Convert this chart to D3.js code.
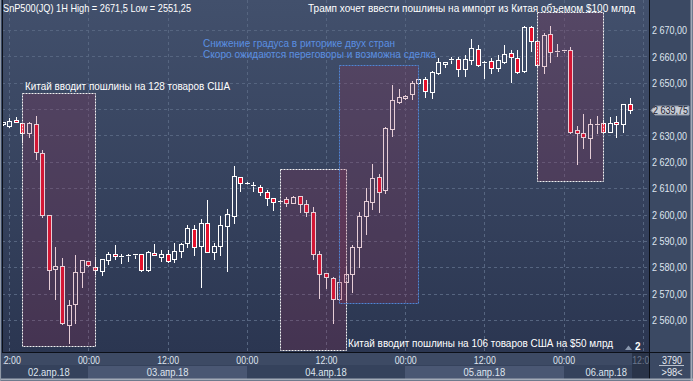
<!DOCTYPE html>
<html><head><meta charset="utf-8">
<script src="https://cdn.jsdelivr.net/npm/d3@7"></script>
<style>html,body{margin:0;padding:0;background:#3b4963;overflow:hidden}svg{display:block}text{font-family:"Liberation Sans",Arial,sans-serif}</style>
</head><body><svg id="c" width="693" height="381"></svg>
<script>
// ---------- data ----------
const opens  = [2634.3,2633.6,2635.9,2634.6,2630.8,2634.3,2623.2,2599.8,2579.2,2580.5,2558.1,2565.9,2578.1,2582.4,2580.2,2578.7,2582.7,2585.0,2584.2,2584.4,2585.0,2585.0,2578.8,2585.3,2584.0,2585.0,2583.0,2586.3,2589.1,2594.4,2588.2,2596.7,2585.9,2588.2,2595.8,2599.6,2614.1,2611.9,2611.3,2610.3,2608.4,2606.2,2604.8,2605.8,2604.5,2607.0,2603.9,2600.8,2585.1,2577.7,2575.8,2567.8,2574.5,2577.3,2587.8,2599.6,2604.9,2614.1,2609.3,2632.3,2642.8,2644.1,2645.6,2649.8,2651.3,2646.6,2653.8,2657.0,2658.5,2658.9,2655.1,2658.6,2662.8,2657.3,2658.2,2655.5,2658.0,2661.2,2659.3,2654.6,2671.3,2665.9,2656.5,2668.5,2662.0,2661.9,2662.4,2632.1,2630.8,2628.9,2634.2,2634.6,2631.4,2635.0,2634.2,2641.9];
const highs  = [2635.2,2636.5,2637.1,2634.8,2635.2,2637.5,2624.5,2599.9,2587.8,2583.6,2567.6,2584.6,2582.8,2582.5,2583.8,2583.0,2585.9,2588.4,2584.9,2585.0,2585.0,2585.1,2586.2,2588.8,2586.5,2586.5,2589.3,2589.3,2596.0,2596.0,2598.2,2605.5,2589.3,2599.4,2602.0,2618.4,2614.4,2612.2,2612.5,2611.2,2609.3,2606.3,2605.5,2606.5,2607.0,2607.1,2605.5,2602.7,2586.2,2577.8,2576.4,2576.7,2580.5,2588.4,2601.1,2609.9,2619.2,2615.4,2633.3,2649.1,2647.6,2645.3,2650.7,2651.4,2652.3,2654.3,2659.3,2658.0,2659.6,2659.9,2660.5,2666.5,2664.3,2658.2,2659.5,2660.5,2664.3,2662.4,2662.4,2671.5,2671.5,2666.0,2669.0,2671.5,2664.7,2662.4,2663.4,2633.6,2638.1,2636.2,2637.4,2635.9,2637.1,2637.4,2641.8,2644.1];
const lows   = [2634.0,2633.1,2635.0,2627.6,2629.5,2621.0,2598.9,2571.6,2567.9,2558.5,2551.25,2558.7,2572.6,2580.6,2577.4,2577.1,2581.1,2583.2,2581.5,2582.5,2583.6,2578.6,2578.6,2584.5,2582.4,2582.0,2582.0,2584.0,2587.8,2584.6,2572.6,2585.7,2583.1,2584.6,2578.7,2596.7,2609.0,2611.4,2609.0,2607.5,2603.7,2601.7,2604.5,2603.2,2604.2,2601.1,2599.6,2583.0,2568.4,2572.0,2558.7,2567.6,2567.6,2570.7,2580.2,2592.6,2602.1,2601.1,2608.3,2629.8,2642.4,2643.9,2643.7,2649.6,2644.7,2644.3,2653.2,2656.0,2657.4,2652.5,2652.5,2657.0,2656.5,2651.9,2653.8,2654.6,2657.4,2650.4,2653.6,2654.2,2662.0,2656.5,2653.8,2658.0,2660.3,2661.8,2630.8,2619.2,2625.3,2621.6,2631.0,2631.0,2631.4,2629.3,2631.4,2638.6];
const closes = [2635.0,2635.6,2635.1,2630.8,2634.6,2623.6,2599.8,2578.9,2580.5,2558.7,2565.7,2578.1,2582.7,2580.7,2578.8,2583.0,2585.0,2584.3,2584.0,2584.6,2585.0,2578.9,2585.7,2584.6,2585.0,2582.5,2586.2,2588.8,2594.8,2587.8,2596.7,2585.7,2588.1,2596.0,2600.1,2614.6,2612.1,2611.7,2611.0,2608.4,2606.2,2604.6,2605.3,2604.5,2606.5,2603.9,2601.1,2584.9,2577.3,2576.2,2567.8,2574.3,2577.3,2587.6,2599.6,2605.2,2613.7,2608.7,2632.7,2643.4,2644.5,2645.1,2649.8,2651.3,2647.0,2654.2,2657.7,2657.9,2659.1,2655.1,2658.9,2663.1,2656.8,2658.0,2655.5,2658.6,2660.9,2659.6,2654.2,2671.3,2665.9,2656.7,2668.1,2661.8,2662.0,2662.3,2631.4,2630.8,2629.3,2634.2,2634.2,2631.4,2634.6,2634.2,2641.8,2639.75];

const gridTicks = [2560,2570,2580,2590,2600,2610,2620,2630,2640,2650,2660,2670];
const priceTicks = gridTicks.filter(v => v !== 2640);
const timeTickIdx = [1,13,25,37,49,61,73,85,97];
const timeTickLabels = ["12:00","00:00","12:00","00:00","12:00","00:00","12:00","00:00","12:00"];
const dateStartIdx = [-11,13,37,61,85];
const dateLabels = ["02.апр.18","03.апр.18","04.апр.18","05.апр.18","06.апр.18"];
const lastPrice = 2639.75;
const headerText = "SnP500(JQ) 1H High = 2671,5 Low = 2551,25";
const boxStart = [3,42,51,81];
const boxEnd   = [14,52,63,91];
const boxHigh  = [2646.0,2617.2,2656.7,2676.7];
const boxLow   = [2550.1,2548.6,2566.3,2612.7];
const boxKind  = ["white","white","blue","white"];
const noteTexts = ["Трамп хочет ввести пошлины на импорт из Китая объемом $100 млрд",
  "Снижение градуса в риторике двух стран",
  "Скоро ожидаются переговоры и возможна сделка",
  "Китай вводит пошлины на 128 товаров США",
  "Китай вводит пошлины на 106 товаров США на $50 млрд"];
const volumeText = "3790", pageText = ">98<", markerCount = "2";

// ---------- layout ----------
const W = 693, H = 381;
const PL = 2, PR = 649, PT = 0, PB = 352;
const svg = d3.select("#c");
const x = d3.scaleLinear().domain([0, 95]).range([2.7, 629.5]);
const y = d3.scaleLinear().domain([2560, 2670]).range([320, 30]);
const px = v => Math.round(v) + 0.5;
const fmt = d3.formatLocale({decimal:",",thousands:" ",grouping:[3],currency:["",""]}).format(",.2f");

const defs = svg.append("defs");
const g1 = defs.append("linearGradient").attr("id","bg").attr("x1",0).attr("y1",0).attr("x2",0).attr("y2",1);
g1.append("stop").attr("offset","0%").attr("stop-color","#42506c");
g1.append("stop").attr("offset","100%").attr("stop-color","#2b3651");
defs.append("clipPath").attr("id","pc").append("rect").attr("x",PL+1).attr("y",PT).attr("width",PR-PL-1).attr("height",PB-PT);
defs.append("clipPath").attr("id","ac").append("rect").attr("x",PL+1).attr("y",PB).attr("width",PR-PL-1).attr("height",H-PB);

svg.append("rect").attr("width",W).attr("height",H).attr("fill","#3b4963");
svg.append("rect").attr("x",PL).attr("y",PT).attr("width",PR-PL).attr("height",PB-PT).attr("fill","url(#bg)");

const plot = svg.append("g").attr("clip-path","url(#pc)");
// grid
plot.selectAll(".hg").data(gridTicks).join("line")
  .attr("x1",PL).attr("x2",PR).attr("y1",d=>px(y(d))).attr("y2",d=>px(y(d)))
  .attr("stroke","#566580").attr("stroke-dasharray","3,3");
plot.selectAll(".vg").data(timeTickIdx).join("line")
  .attr("x1",d=>px(x(d))).attr("x2",d=>px(x(d))).attr("y1",PT).attr("y2",PB)
  .attr("stroke","#566580").attr("stroke-dasharray","3,3");

// candles
const idx = d3.range(opens.length);
const cg = plot.append("g");
idx.forEach(i => {
  const o = opens[i], c = closes[i], h = highs[i], l = lows[i];
  const xc = px(x(i));
  const top = Math.round(y(Math.max(o, c))), bot = Math.max(Math.round(y(Math.min(o, c))), top + 1);
  const bear = c < o;
  cg.append("line").attr("x1",xc).attr("x2",xc).attr("y1",Math.round(y(h))).attr("y2",top+0.5).attr("stroke","#fff");
  cg.append("line").attr("x1",xc).attr("x2",xc).attr("y1",bot+0.5).attr("y2",Math.round(y(l))+1).attr("stroke","#fff");
  if (bot - top <= 1) {
    cg.append("line").attr("x1",xc-2.5).attr("x2",xc+2.5).attr("y1",top+0.5).attr("y2",top+0.5).attr("stroke","#fff");
  } else {
    cg.append("rect").attr("x",xc-2).attr("y",top+0.5).attr("width",4).attr("height",bot-top)
      .attr("fill", bear ? "#e5102c" : "none").attr("stroke","#fff");
  }
});

// annotation boxes
const boxes = d3.range(boxStart.length);
plot.selectAll(".bx").data(boxes).join("rect")
  .attr("x",d=>px(x(boxStart[d]))).attr("y",d=>px(y(boxHigh[d])))
  .attr("width",d=>Math.round(x(boxEnd[d]))-Math.round(x(boxStart[d])))
  .attr("height",d=>Math.round(y(boxLow[d]))-Math.round(y(boxHigh[d])))
  .attr("fill","rgba(150,45,85,0.24)")
  .attr("stroke",d=>boxKind[d]==="blue" ? "#4f86d6" : "#f2f2f2")
  .attr("stroke-dasharray","2,1");

// texts in plot
const T = (sel, txt, xx, yy, len, col) => sel.append("text").text(txt).attr("x",xx).attr("y",yy)
  .attr("font-size","10.5px").attr("fill",col||"#fff").attr("textLength",len).attr("lengthAdjust","spacingAndGlyphs");
T(svg, headerText, 3, 12, 188);
T(svg, noteTexts[0], 308, 12, 327);
T(svg, noteTexts[1], 203, 46.5, 192, "#5a8fe2");
T(svg, noteTexts[2], 203, 57.5, 233, "#5a8fe2");
T(svg, noteTexts[3], 25, 90, 205);
T(svg, noteTexts[4], 348, 347, 265);

// marker "2"
svg.append("path").attr("d","M625,350 L628.5,345.5 L632,350 Z").attr("fill","#8a97ad");
svg.append("text").text(markerCount).attr("x",635).attr("y",349.5).attr("font-size","10px").attr("fill","#fff").attr("font-weight","bold");

// bottom axis panel
svg.append("rect").attr("x",PL).attr("y",PB).attr("width",PR-PL).attr("height",13).attr("fill","#3d4a64");
svg.append("rect").attr("x",PL).attr("y",PB+13).attr("width",PR-PL).attr("height",H-PB-15).attr("fill","#35425c");
const ax = svg.append("g").attr("clip-path","url(#ac)");
const bands = d3.range(dateStartIdx.length);
ax.selectAll(".band").data(bands.filter(d=>d%2===1)).join("rect")
  .attr("x",d=>Math.round(x(dateStartIdx[d]))).attr("y",PB+14)
  .attr("width",d=>Math.round(x(dateStartIdx[d]+24))-Math.round(x(dateStartIdx[d]))).attr("height",H-PB-16)
  .attr("fill","#4a5773");
const futureX = Math.round(x(opens.length-1)) + 2;
ax.append("rect").attr("x",futureX).attr("y",PB).attr("width",PR-futureX).attr("height",H-PB-2).attr("fill","#2a3449");
const xAxis = d3.axisBottom(x).tickValues(timeTickIdx).tickSize(0).tickPadding(0)
  .tickFormat((d,i)=>timeTickLabels[i]);
const xg = ax.append("g").attr("transform",`translate(0,${PB})`).call(xAxis);
xg.select(".domain").remove();
xg.selectAll("text").attr("y",12).attr("dy",0).attr("font-size","10.5px").attr("font-family","Liberation Sans, Arial, sans-serif")
  .attr("fill",d=>x(d)>futureX ? "#6c788e" : "#dfe5ef").attr("textLength",22).attr("lengthAdjust","spacingAndGlyphs");
ax.selectAll(".dl").data(bands).join("text")
  .attr("x",d=>{const a=Math.max(x(dateStartIdx[d]), x(1)); const b=Math.min(x(dateStartIdx[d]+24), PR); return (a+b)/2;})
  .attr("y",375.5).attr("text-anchor","middle").attr("font-size","10.5px").attr("fill","#dfe5ef")
  .attr("textLength",41.6).attr("lengthAdjust","spacingAndGlyphs").text(d=>dateLabels[d]);

// right axis
const yAxis = d3.axisRight(y).tickValues(priceTicks).tickSize(0).tickPadding(0).tickFormat(fmt);
const yg = svg.append("g").attr("transform",`translate(${PR+3},0)`).call(yAxis);
yg.select(".domain").remove();
yg.selectAll("text").attr("x",0).attr("dy","0.35em").attr("font-size","10.5px").attr("font-family","Liberation Sans, Arial, sans-serif")
  .attr("fill","#dfe5ef").attr("textLength",35).attr("lengthAdjust","spacingAndGlyphs");

// last price tag
const ly = Math.round(y(lastPrice)) + 0.5;
svg.append("path").attr("d",`M${PR+2},${ly} L${PR+6},${ly-4.5} L${PR+40},${ly-4.5} L${PR+40},${ly+4.5} L${PR+6},${ly+4.5} Z`)
  .attr("fill","#c6cbd4").attr("stroke","#8d96a6");
svg.append("text").text(fmt(lastPrice))
  .attr("x",PR+4).attr("y",ly+3.8).attr("font-size","10.5px").attr("fill","#1c2233")
  .attr("textLength",35).attr("lengthAdjust","spacingAndGlyphs");

// bottom-right cell
svg.append("text").text(volumeText).attr("x",672).attr("y",363.5).attr("text-anchor","middle").attr("font-size","10.5px").attr("fill","#e6eaf1").attr("textLength",20).attr("lengthAdjust","spacingAndGlyphs");
svg.append("line").attr("x1",659).attr("x2",684).attr("y1",365.5).attr("y2",365.5).attr("stroke","#b9c0cc");
svg.append("text").text(pageText).attr("x",672).attr("y",376).attr("text-anchor","middle").attr("font-size","10.5px").attr("fill","#e6eaf1").attr("textLength",21).attr("lengthAdjust","spacingAndGlyphs");

// frame lines
svg.append("line").attr("x1",PL+0.5).attr("x2",PL+0.5).attr("y1",0).attr("y2",PB).attr("stroke","#0c1018");
svg.append("line").attr("x1",PL).attr("x2",W-2).attr("y1",PB+0.5).attr("y2",PB+0.5).attr("stroke","#0c1018");
svg.append("line").attr("x1",PR+0.5).attr("x2",PR+0.5).attr("y1",0).attr("y2",H-2).attr("stroke","#0c1018");
svg.append("line").attr("x1",0).attr("x2",W).attr("y1",H-1.5).attr("y2",H-1.5).attr("stroke","#a3abb8").attr("stroke-width",2);
svg.append("line").attr("x1",W-1.5).attr("x2",W-1.5).attr("y1",0).attr("y2",H).attr("stroke","#a3abb8").attr("stroke-width",2);
svg.append("line").attr("x1",0.5).attr("x2",0.5).attr("y1",0).attr("y2",H).attr("stroke","#8f98a6");
</script></body></html>
